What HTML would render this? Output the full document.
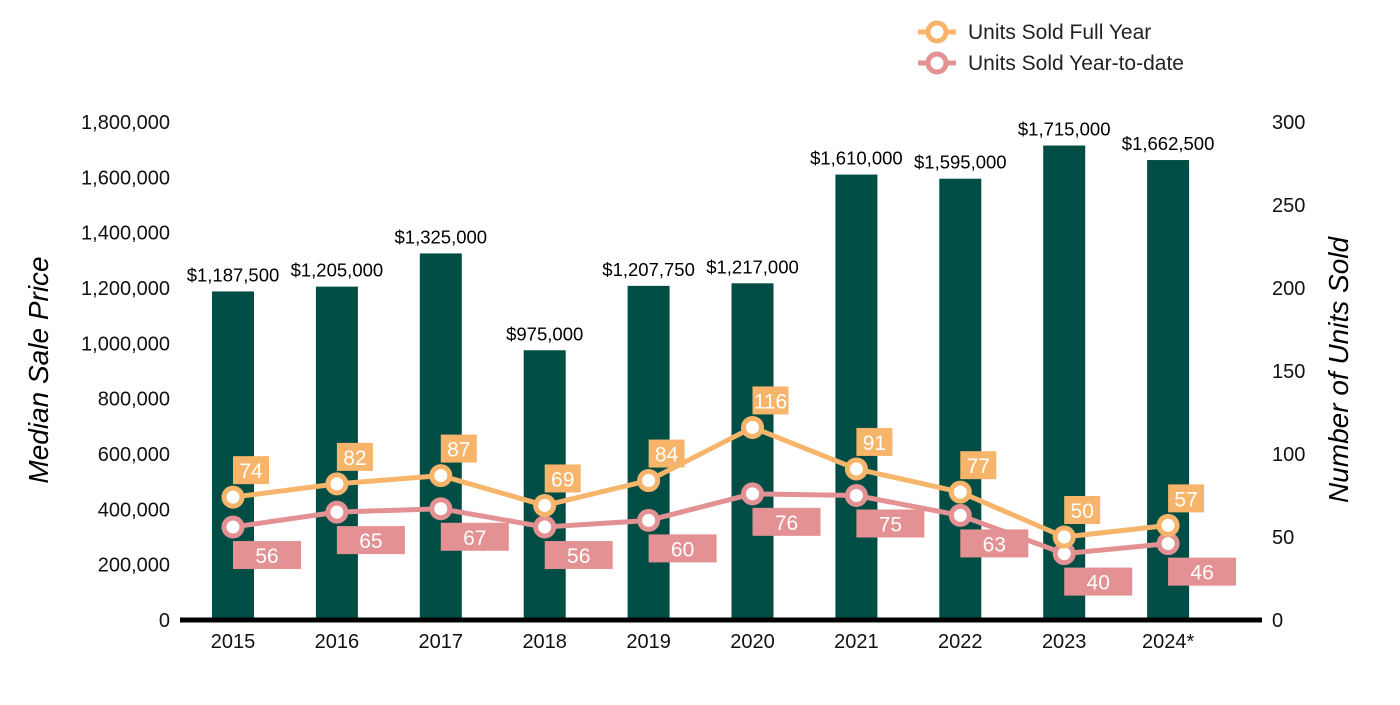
<!DOCTYPE html>
<html><head><meta charset="utf-8"><style>
body{margin:0;background:#fff;}
svg text{font-family:"Liberation Sans",Arial,sans-serif;}
</style></head><body>
<svg id="chart" width="1400" height="700" viewBox="0 0 1400 700" xmlns="http://www.w3.org/2000/svg">
<g id="legend">
  <g>
    <line x1="918" y1="32" x2="956" y2="32" stroke="#f7b56b" stroke-width="5"/>
    <circle cx="937" cy="32" r="9" fill="#fff" stroke="#f7b56b" stroke-width="5"/>
    <text x="968" y="39" font-size="21" fill="#222">Units Sold Full Year</text>
  </g>
  <g>
    <line x1="918" y1="63" x2="956" y2="63" stroke="#e39192" stroke-width="5"/>
    <circle cx="937" cy="63" r="9" fill="#fff" stroke="#e39192" stroke-width="5"/>
    <text x="968" y="70" font-size="21" fill="#222">Units Sold Year-to-date</text>
  </g>
</g>
<text transform="translate(48,370) rotate(-90)" text-anchor="middle" font-size="28" font-style="italic" fill="#000">Median Sale Price</text>
<text transform="translate(1348,370) rotate(-90)" text-anchor="middle" font-size="28" font-style="italic" fill="#000">Number of Units Sold</text>
<g id="left-ticks"></g><g id="right-ticks"></g><g id="bars"></g><g id="xlabels"></g><g id="lines"></g>
<line x1="180" y1="620" x2="1262" y2="620" stroke="#000" stroke-width="5"/>
</svg>
<script>
const categories=["2015","2016","2017","2018","2019","2020","2021","2022","2023","2024*"];
const prices=[1187500,1205000,1325000,975000,1207750,1217000,1610000,1595000,1715000,1662500];
const priceLabels=["$1,187,500","$1,205,000","$1,325,000","$975,000","$1,207,750","$1,217,000","$1,610,000","$1,595,000","$1,715,000","$1,662,500"];
const fullYear=[74,82,87,69,84,116,91,77,50,57];
const ytd=[56,65,67,56,60,76,75,63,40,46];
const leftTicks=[0,200000,400000,600000,800000,1000000,1200000,1400000,1600000,1800000];
const rightTicks=[0,50,100,150,200,250,300];
const NS="http://www.w3.org/2000/svg";
const y0=620,yTop=122;
const yL=v=>y0-v/1800000*(y0-yTop);
const yR=v=>y0-v/300*(y0-yTop);
const xC=i=>233+i*103.9;
function mk(tag,attrs,parent,text){const e=document.createElementNS(NS,tag);for(const k in attrs)e.setAttribute(k,attrs[k]);if(text!==undefined)e.textContent=text;document.getElementById(parent).appendChild(e);return e;}
leftTicks.forEach(v=>{const t=mk('text',{x:170,y:yL(v)+7,'text-anchor':'end','font-size':20,fill:'#111'},'left-ticks',v.toLocaleString('en-US'));

});
rightTicks.forEach(v=>{const t=mk('text',{x:1272,y:yR(v)+7,'font-size':20,fill:'#111'},'right-ticks',String(v));

});
prices.forEach((p,i)=>{const r=mk('rect',{x:xC(i)-21,y:yL(p),width:42,height:y0-yL(p),fill:'#004d45'},'bars');


const t=mk('text',{x:xC(i),y:yL(p)-10,'text-anchor':'middle','font-size':18.5,fill:'#000'},'bars',priceLabels[i]);


const c=mk('text',{x:xC(i),y:648,'text-anchor':'middle','font-size':20,fill:'#111'},'xlabels',categories[i]);

});
function series(vals,color,name,above){
const pts=vals.map((v,i)=>xC(i)+','+yR(v)).join(' ');
const pl=mk('polyline',{points:pts,fill:'none',stroke:color,'stroke-width':5,'stroke-linejoin':'round'},'lines');


vals.forEach((v,i)=>{const x=xC(i),y=yR(v);
const c=mk('circle',{cx:x,cy:y,r:9,fill:'#fff',stroke:color,'stroke-width':5},'lines');


const w=above?36:68,by=above?y-41:y+14;
const b=mk('rect',{x:x,y:by,width:w,height:28,fill:color},'lines');


const t=mk('text',{x:x+w/2,y:by+22,'text-anchor':'middle','font-size':21,fill:'#fff'},'lines',String(v));

});}
series(ytd,'#e39192','ytd',false);
series(fullYear,'#f7b56b','full-year',true);
</script>
</body></html>
